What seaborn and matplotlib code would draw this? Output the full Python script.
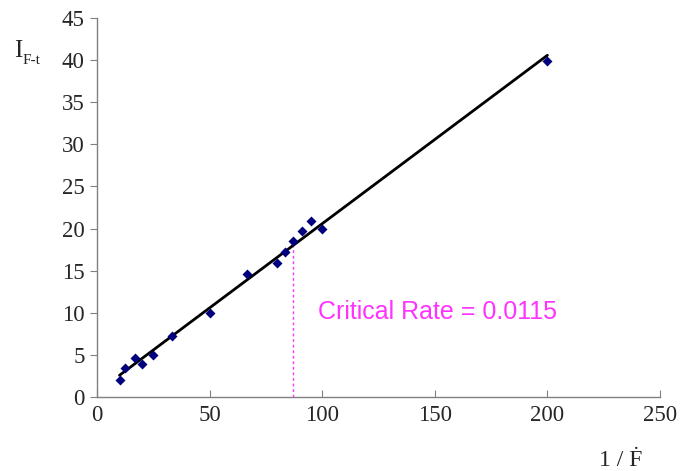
import matplotlib
matplotlib.use("Agg")
import matplotlib.pyplot as plt
import seaborn as sns
import numpy as np
import pandas as pd

inv_rate = [10, 12.5, 16.7, 20, 25, 33.3, 50, 66.7, 80, 83.3, 87, 90.9, 95.2, 100, 200]
i_ft = [2.0, 3.4, 4.6, 3.9, 5.0, 7.2, 10.0, 14.6, 15.9, 17.2, 18.5, 19.7, 20.9, 20.0, 39.9]
critical_rate = 0.0115
x_ticks = [0, 50, 100, 150, 200, 250]
y_ticks = [0, 5, 10, 15, 20, 25, 30, 35, 40, 45]

df = pd.DataFrame({"x": inv_rate, "y": i_ft})

sns.set_style("white")
plt.rcParams["font.family"] = ["Liberation Serif", "DejaVu Serif"]

fig = plt.figure(figsize=(6.81, 4.71), dpi=100)
ax = fig.add_axes([97/681, 1-397/471, (660-97)/681, (397-18)/471])

sns.regplot(data=df, x="x", y="y", ax=ax, ci=None, scatter=False,
            line_kws=dict(color="black", lw=2))
sns.scatterplot(data=df, x="x", y="y", ax=ax, marker="D", color="#00007f",
                s=26, edgecolor="#00007f", linewidth=0, zorder=3)

slope, intercept = np.polyfit(inv_rate, i_ft, 1)
xc = 1 / critical_rate
ax.plot([xc, xc], [0, slope * xc + intercept], color="#ff33ff", lw=1,
        linestyle=(0, (2, 2)), zorder=1)
ax.text(98, 10.1, "Critical Rate = 0.0115", color="#ff33ff", fontsize=18,
        family=["Liberation Sans", "DejaVu Sans"], va="center", ha="left")

ax.set_xlim(0, 250)
ax.set_ylim(0, 45)
ax.set_xticks(x_ticks)
ax.set_yticks(y_ticks)
ax.set_xlabel("")
ax.set_ylabel("")
for s in ["top", "right"]:
    ax.spines[s].set_visible(False)
for s in ["left", "bottom"]:
    ax.spines[s].set_color("#808080")
    ax.spines[s].set_linewidth(1)
ax.tick_params(axis="y", direction="out", length=5, color="#808080", labelsize=16.5, pad=4)
ax.tick_params(axis="x", direction="in", length=5, color="#808080", labelsize=16.5, pad=6)
ax.tick_params(left=True, bottom=True)

fig.text(14/681, 1-51/471, "I", fontsize=18, va="center", ha="left")
fig.text(23/681, 1-61/471, "F-t", fontsize=11, va="center", ha="left")
fig.text(621/681, 1-460/471, "1 / \u1E1E", fontsize=17, va="center", ha="center")

fig.savefig("out.png", dpi=100)
